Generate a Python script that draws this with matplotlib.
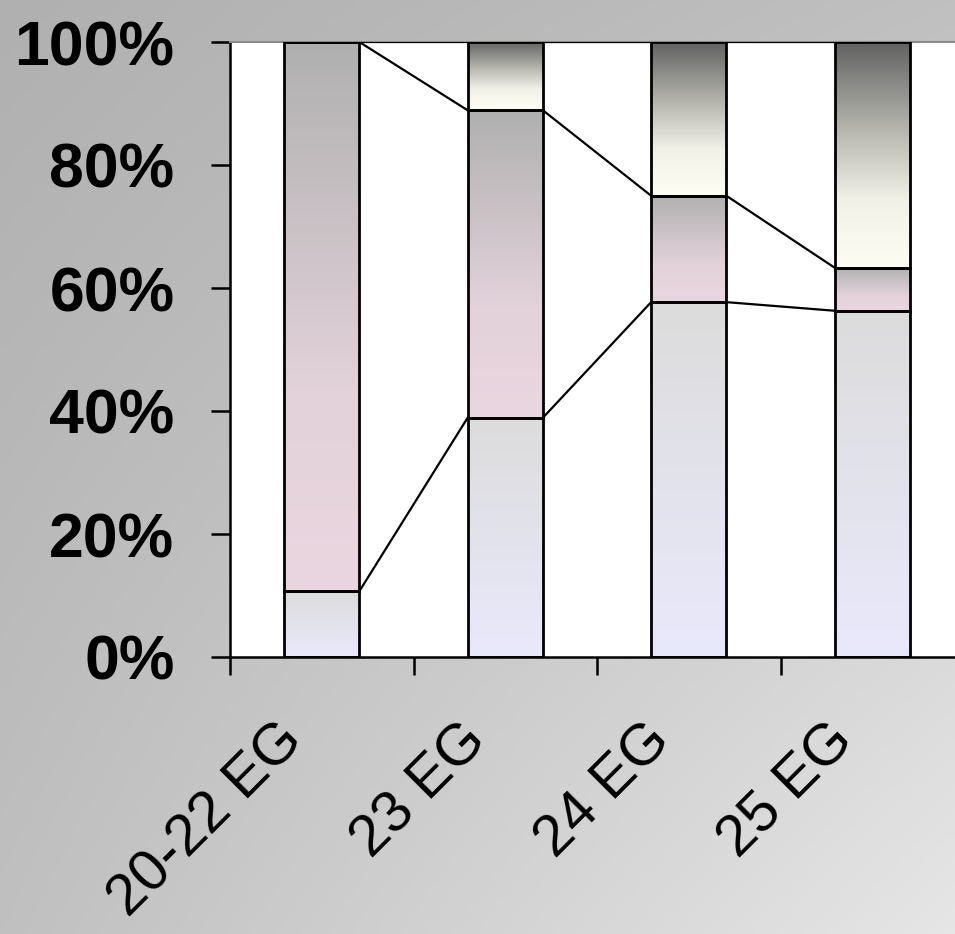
import numpy as np
import matplotlib.pyplot as plt
from matplotlib.colors import to_rgb
from matplotlib.transforms import ScaledTranslation

categories = ["20-22 EG", "23 EG", "24 EG", "25 EG"]
bottom_vals = [10.7, 38.9, 57.7, 56.3]
middle_vals = [89.3, 50.0, 17.3, 7.0]
top_vals = [0.0, 11.1, 25.0, 36.7]
y_ticks = [0, 20, 40, 60, 80, 100]
y_labels = ["0%", "20%", "40%", "60%", "80%", "100%"]

# colour stops (bottom -> top of each segment)
grad_bottom = [(0.0, "#e9e9fc"), (1.0, "#dcdcdc")]
grad_middle = [(0.0, "#ead6e0"), (0.35, "#e3d2da"), (1.0, "#b0b0b0")]
grad_top = [(0.0, "#fdfdf3"), (0.3, "#f1f1e8"), (0.6, "#b8b8b0"), (1.0, "#626262")]

plt.rcParams['font.family'] = ['Liberation Sans', 'DejaVu Sans']


def gradient(stops, n=256):
    pos = np.array([s[0] for s in stops])
    cols = np.array([to_rgb(s[1]) for s in stops])
    t = np.linspace(0, 1, n)
    arr = np.stack([np.interp(t, pos, cols[:, k]) for k in range(3)], axis=-1)
    return arr[:, None, :]


W, H = 955, 934
fig = plt.figure(figsize=(W / 100, H / 100), dpi=100)

# background gradient
bg = fig.add_axes([0, 0, 1, 1])
xx, yy = np.meshgrid(np.linspace(0, 1, 200), np.linspace(0, 1, 200))
tl, tr, bl, br = 176, 192, 192, 230
v = (tl * (1 - xx) * (1 - yy) + tr * xx * (1 - yy) + bl * (1 - xx) * yy + br * xx * yy) / 255
bg.imshow(np.dstack([v, v, v]), aspect='auto', extent=(0, 1, 0, 1), origin='upper')
bg.axis('off')

left, right, top, bottom = 230, 964, 42, 657
ax = fig.add_axes([left / W, (H - bottom) / H, (right - left) / W, (bottom - top) / H])
ax.set_facecolor('white')

x = np.arange(len(categories))
width = 0.41
series = [(bottom_vals, grad_bottom), (middle_vals, grad_middle), (top_vals, grad_top)]
base = np.zeros(len(categories))
levels = []
for vals, stops in series:
    vals = np.array(vals)
    img = gradient(stops)
    for i in range(len(categories)):
        if vals[i] <= 0:
            continue
        ax.imshow(img, extent=(x[i] - width / 2, x[i] + width / 2, base[i], base[i] + vals[i]),
                  origin='lower', aspect='auto', interpolation='bilinear', zorder=2)
    ax.bar(x, vals, width, bottom=base, fill=False, edgecolor='black', linewidth=2.0, zorder=3)
    base = base + vals
    levels.append(base.copy())

# series lines
for lev in levels:
    for i in range(len(categories) - 1):
        ax.plot([x[i] + width / 2, x[i + 1] - width / 2], [lev[i], lev[i + 1]],
                color='black', lw=1.6, zorder=3)

ax.set_xlim(-0.5, 3.5)
ax.set_ylim(0, 100)

ax.set_yticks(y_ticks)
ax.set_yticklabels(y_labels, fontsize=45, fontweight='bold')
ax.tick_params(axis='y', length=14, width=1.8, pad=26, direction='out')

ax.set_xticks(x)
ax.set_xticklabels(categories, fontsize=42, rotation=45, ha='right', va='top')
ax.set_xticks(np.arange(len(categories)) - 0.5, minor=True)
ax.tick_params(axis='x', which='major', length=0, pad=40)
ax.tick_params(axis='x', which='minor', length=13, width=1.8, direction='out')
for lab in ax.get_xticklabels():
    lab.set_transform(lab.get_transform() + ScaledTranslation(-0.08, 0, fig.dpi_scale_trans))

for s in ['left', 'bottom']:
    ax.spines[s].set_linewidth(1.8)
ax.spines['top'].set_color('#8a8a8a')
ax.spines['top'].set_linewidth(1.5)
ax.spines['right'].set_visible(False)

fig.savefig('out.png', dpi=100)
